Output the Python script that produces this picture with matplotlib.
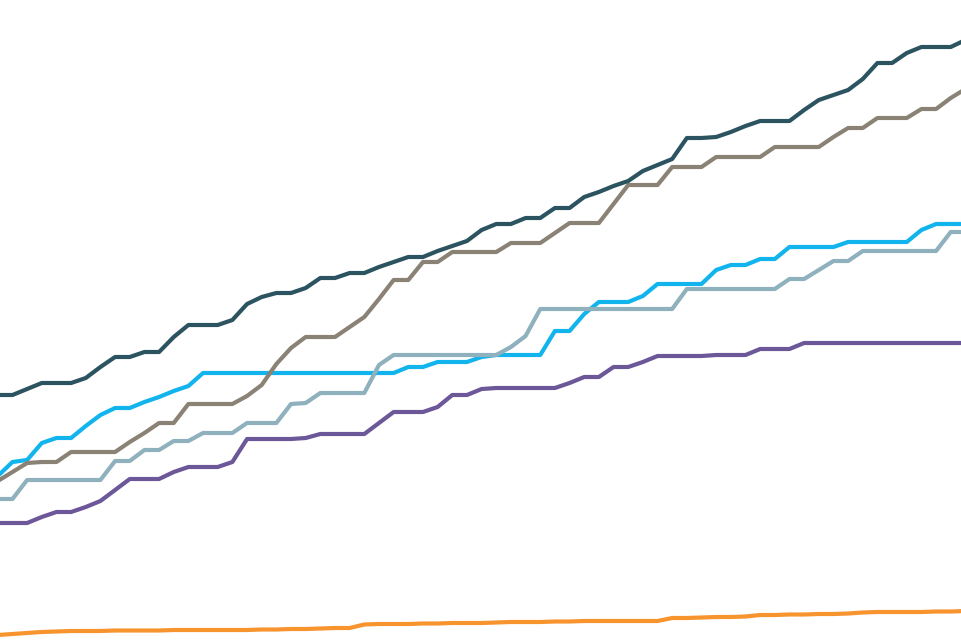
import numpy as np
import matplotlib
matplotlib.use("Agg")
import matplotlib.pyplot as plt

# one point per month, index 0 sits just left of the visible area
months = np.arange(67)

dark = [245, 245, 251, 257, 257, 257, 262, 273, 283, 283, 288, 288, 303, 315, 315, 315,
        320, 336, 343, 347, 347, 352, 362, 362, 367, 367, 373, 378, 383, 383, 389, 394,
        399, 410, 416, 416, 422, 422, 432, 432, 443, 448, 454, 459, 469, 475, 481, 502,
        502, 503, 508, 514, 519, 519, 519, 530, 540, 545, 550, 561, 577, 577, 587, 593,
        593, 593, 600]

taupe = [159, 168, 177, 178, 178, 188, 188, 188, 188, 198, 207, 217, 217, 236, 236, 236,
         236, 244, 255, 276, 292, 303, 303, 303, 313, 323, 341, 360, 360, 378, 378, 388,
         388, 388, 388, 397, 397, 397, 407, 417, 417, 417, 436, 455, 455, 455, 473, 473,
         473, 483, 483, 483, 483, 493, 493, 493, 493, 503, 512, 512, 522, 522, 522, 531,
         531, 542, 551]

blue = [164, 178, 180, 197, 202, 202, 214, 225, 232, 232, 238, 243, 249, 254, 267, 267,
        267, 267, 267, 267, 267, 267, 267, 267, 267, 267, 267, 267, 273, 273, 278, 278,
        278, 283, 285, 285, 285, 285, 309, 309, 326, 338, 338, 338, 344, 356, 356, 356,
        356, 370, 375, 375, 381, 381, 393, 393, 393, 393, 398, 398, 398, 398, 398, 410,
        416, 416, 416]

slate = [141, 141, 160, 160, 160, 160, 160, 160, 179, 179, 190, 190, 199, 199, 207, 207,
         207, 217, 217, 217, 236, 237, 247, 247, 247, 247, 275, 285, 285, 285, 285, 285,
         285, 285, 285, 293, 304, 331, 331, 331, 331, 331, 331, 331, 331, 331, 331, 351,
         351, 351, 351, 351, 351, 351, 361, 361, 370, 379, 379, 389, 389, 389, 389, 389,
         389, 408, 408]

purple = [117, 117, 117, 123, 128, 128, 133, 139, 150, 161, 161, 161, 168, 173, 173, 173,
          178, 201, 201, 201, 201, 202, 206, 206, 206, 206, 217, 228, 228, 228, 233, 245,
          245, 251, 252, 252, 252, 252, 252, 257, 263, 263, 273, 273, 278, 284, 284, 284,
          284, 285, 285, 285, 291, 291, 291, 297, 297, 297, 297, 297, 297, 297, 297, 297,
          297, 297, 297]

orange = [5, 6, 7, 8, 8.5, 9, 9, 9, 9.5, 9.5, 9.5, 9.5, 10, 10, 10, 10,
          10, 10, 10.5, 10.5, 11, 11, 11.5, 12, 12, 15.5, 16, 16, 16, 16.5, 16.5, 17,
          17, 17, 17.5, 18, 18, 18, 18.5, 18.5, 19, 19, 19, 19, 19, 19, 22, 22,
          22.5, 23, 23, 23.5, 25, 25, 25.5, 25.5, 26, 26, 26.5, 27.5, 28, 28, 28, 28,
          28.5, 28.5, 29]

series = [
    (blue, "#12b4ee"),
    (taupe, "#8b8276"),
    (slate, "#8fb0bd"),
    (purple, "#6c5798"),
    (dark, "#2c5460"),
    (orange, "#f7942e"),
]

fig = plt.figure(figsize=(9.61, 6.4), dpi=100)
ax = fig.add_axes([0, 0, 1, 1])

for values, color in series:
    ax.plot(months, values, color=color, linewidth=3.0,
            solid_joinstyle="round", solid_capstyle="round")

ax.set_xlim(0.15, 65.7)
ax.set_ylim(0, 640)
ax.axis("off")

fig.savefig("out.png", dpi=100)
